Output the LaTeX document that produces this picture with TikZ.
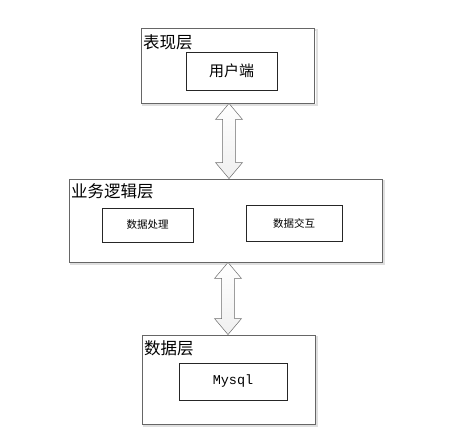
\documentclass[tikz,border=0pt]{standalone}
\usepackage{fontspec}
\newfontfamily\cjk{Noto Sans CJK SC}
\setmonofont{Liberation Mono}
\usetikzlibrary{calc}
\tikzstyle{layer}=[draw=gray!80!black,line width=0.9pt,fill=white,inner sep=0pt]
\tikzstyle{shade}=[draw=gray!25,line width=1.2pt]
\tikzstyle{part}=[draw=black!85,line width=0.7pt,fill=white,inner sep=0pt]
\tikzstyle{title}=[anchor=north west,inner sep=0pt,font=\cjk\fontsize{16.5}{17}\selectfont]
\tikzstyle{link}=[draw=gray!85!black,line width=0.5pt,top color=white,bottom color=gray!12]

\begin{document}
\begin{tikzpicture}[x=1pt,y=-1pt]
    \useasboundingbox (0,0) rectangle (468,445);
    % shadows of the layers
    \draw[shade] (143,30) rectangle (317,105);
    \draw[shade] (71,181) rectangle (384,264);
    \draw[shade] (144,337) rectangle (317,426);
    % layers
    \node[layer,minimum width=173pt,minimum height=75pt] (top) at (227.5,65.5) {};
    \node[layer,minimum width=313pt,minimum height=83pt] (mid) at (225.5,220.5) {};
    \node[layer,minimum width=173pt,minimum height=89pt] (bot) at (228.5,379.5) {};
    \node[title] (ttop) at (143,34) {表现层};
    \node[title] (tmid) at (71,183) {业务逻辑层};
    \node[title] (tbot) at (144,340) {数据层};
    % parts
    \node[part,minimum width=91pt,minimum height=38pt,font=\cjk\fontsize{15}{16}\selectfont] (user) at (231.5,71) {用户端};
    \node[part,minimum width=91pt,minimum height=34pt,font=\cjk\fontsize{10.5}{12}\selectfont] (proc) at (147.5,225) {数据处理};
    \node[part,minimum width=96pt,minimum height=36pt,font=\cjk\fontsize{10.5}{12}\selectfont] (xchg) at (294,223) {数据交互};
    \node[part,minimum width=108pt,minimum height=37pt,font=\ttfamily\fontsize{13.5}{15}\selectfont] (db) at (233,381.5) {Mysql};

    \foreach \from/\to/\dx in {top/mid/1.5,mid/bot/2.5}
    \path let \p1=([xshift=\dx pt]\from.south), \p2=(\to.north) in
        [link] (\x1,\y1) -- (\x1+13.5pt,\y1-16pt) -- (\x1+6.5pt,\y1-16pt)
        -- (\x1+6.5pt,\y2+16pt) -- (\x1+13.5pt,\y2+16pt) -- (\x1,\y2)
        -- (\x1-13.5pt,\y2+16pt) -- (\x1-6.5pt,\y2+16pt)
        -- (\x1-6.5pt,\y1-16pt) -- (\x1-13.5pt,\y1-16pt) -- cycle;
\end{tikzpicture}
\end{document}
